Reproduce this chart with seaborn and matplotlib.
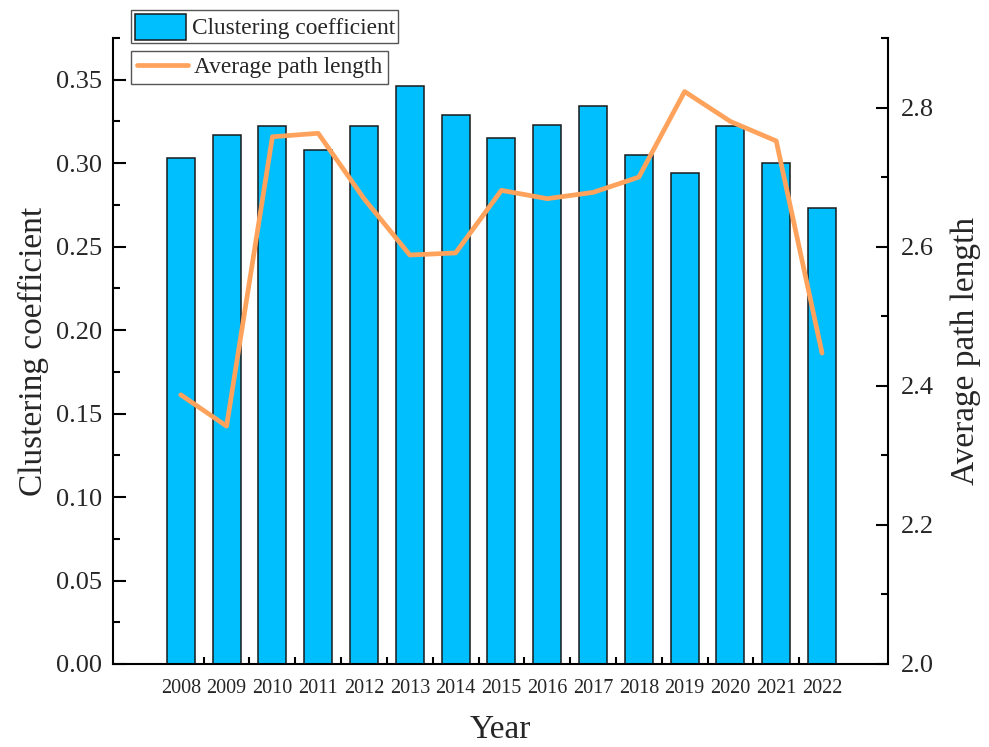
import numpy as np
import pandas as pd
import matplotlib
matplotlib.use("Agg")
import matplotlib.pyplot as plt
from matplotlib.ticker import MultipleLocator, FixedLocator
import seaborn as sns

# Network metrics per year
years = ["2008", "2009", "2010", "2011", "2012", "2013", "2014", "2015",
         "2016", "2017", "2018", "2019", "2020", "2021", "2022"]
clustering = [0.303, 0.317, 0.322, 0.308, 0.322, 0.346, 0.329, 0.315,
              0.323, 0.334, 0.305, 0.294, 0.322, 0.300, 0.273]
path_length = [2.387, 2.342, 2.758, 2.763, 2.669, 2.588, 2.591, 2.681,
               2.669, 2.678, 2.700, 2.823, 2.780, 2.752, 2.447]

df = pd.DataFrame({"Year": years, "Clustering": clustering, "APL": path_length})
df["pos"] = np.arange(len(df))

sns.set_style("ticks")
plt.rcParams["font.family"] = ["Liberation Serif", "DejaVu Serif"]

fig = plt.figure(figsize=(9.89, 7.47), dpi=100)
ax = fig.add_axes([113 / 989, 1 - 664 / 747, (888 - 113) / 989, (664 - 38) / 747])

sns.barplot(data=df, x="Year", y="Clustering", color="#00BFFF", saturation=1,
            width=0.61, edgecolor="#1a1a1a", linewidth=1.1, ax=ax,
            label="Clustering coefficient")

ax2 = ax.twinx()
sns.lineplot(data=df, x="pos", y="APL", color="#FFA35C", linewidth=3.4,
             ax=ax2, label="Average path length")

ax.set_xlim(-1.48, 15.44)
ax.set_ylim(0, 0.375)
ax2.set_ylim(2.0, 2.9)

# Left axis ticks
ax.yaxis.set_major_locator(MultipleLocator(0.05))
ax.yaxis.set_minor_locator(MultipleLocator(0.025))
ax.yaxis.set_major_formatter(plt.FuncFormatter(lambda v, p: f"{v:.2f}"))
ax.xaxis.set_minor_locator(FixedLocator(np.arange(0.5, len(years) - 1, 1.0)))

# Right axis ticks
ax2.yaxis.set_major_locator(FixedLocator([2.0, 2.2, 2.4, 2.6, 2.8]))
ax2.yaxis.set_minor_locator(MultipleLocator(0.1))
ax2.yaxis.set_major_formatter(plt.FuncFormatter(lambda v, p: f"{v:.1f}"))

for a in (ax, ax2):
    a.spines["top"].set_visible(False)
    for s in a.spines.values():
        s.set_linewidth(1.5)
        s.set_color("black")
ax.spines["right"].set_visible(False)
ax2.spines["left"].set_visible(False)
ax2.spines["bottom"].set_visible(False)

ax.tick_params(axis="both", which="major", direction="in", length=9, width=1.5,
               color="black")
ax.tick_params(axis="both", which="minor", direction="in", length=5, width=1.5,
               color="black")
ax.tick_params(axis="y", which="major", labelsize=19, pad=8)
ax.tick_params(axis="x", which="major", labelsize=14.5, pad=11)
ax2.tick_params(axis="y", which="major", direction="in", length=9, width=1.5,
                labelsize=19, pad=9, color="black")
ax2.tick_params(axis="y", which="minor", direction="in", length=5, width=1.5,
                color="black")
ax2.tick_params(axis="x", which="both", bottom=False, top=False,
                labelbottom=False)

ax.set_xlabel("Year", fontsize=24, labelpad=12)
ax.set_ylabel("Clustering coefficient", fontsize=24, labelpad=5)
ax2.set_ylabel("Average path length", fontsize=24, labelpad=12)
ax2.set_xlabel("")

# Two separate legend boxes above the plot area
leg1 = ax.legend(loc="upper left", bbox_to_anchor=(131 / 989, 1 - 10 / 747),
                 bbox_transform=fig.transFigure, borderaxespad=0,
                 fontsize=16.8, frameon=True, fancybox=False, framealpha=1,
                 edgecolor="#555555", handlelength=2.2, handleheight=1.35,
                 handletextpad=0.25, borderpad=0.15)
leg1.get_frame().set_linewidth(1.0)
leg2 = ax2.legend(loc="upper left", bbox_to_anchor=(131 / 989, 1 - 51 / 747),
                  bbox_transform=fig.transFigure, borderaxespad=0,
                  fontsize=16.8, frameon=True, fancybox=False, framealpha=1,
                  edgecolor="#555555", handlelength=2.2,
                  handletextpad=0.25, borderpad=0.25)
leg2.get_frame().set_linewidth(1.0)

fig.savefig("out.png", dpi=100)
